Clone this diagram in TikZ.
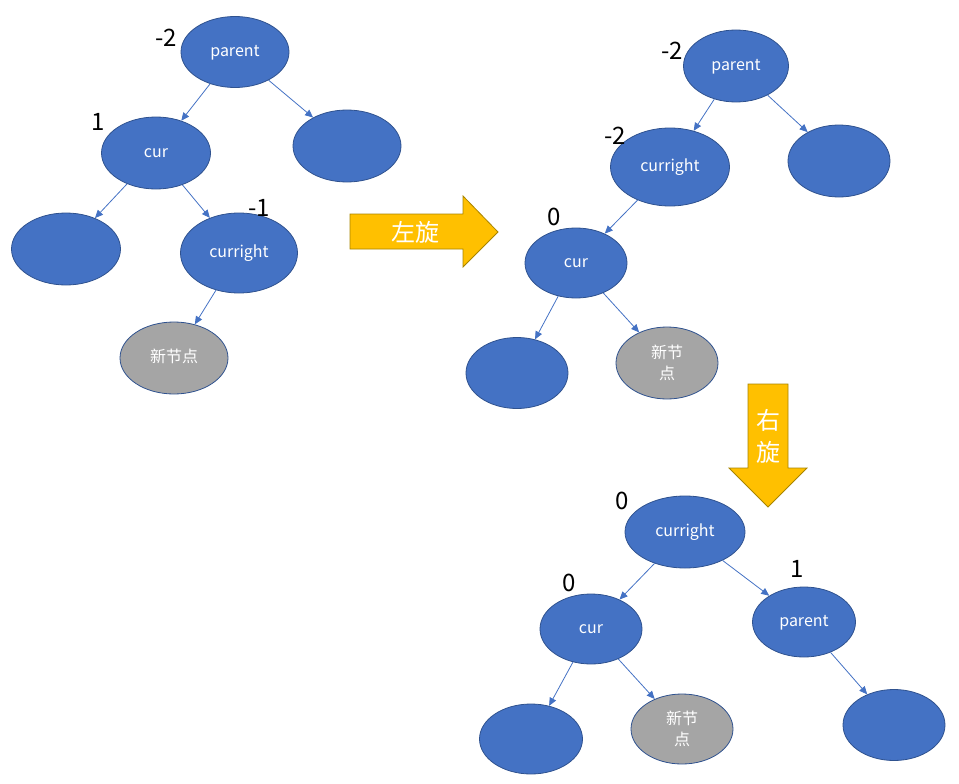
\documentclass[tikz,border=0pt]{standalone}
\usepackage{fontspec}
\newfontfamily\cjk{Noto Sans CJK SC}
\usetikzlibrary{shapes.geometric}
\usetikzlibrary{arrows.meta}
\definecolor{nodeblue}{HTML}{4472C4}
\definecolor{nodeedge}{HTML}{2F528F}
\definecolor{newgray}{HTML}{A5A5A5}
\definecolor{turn}{HTML}{FFC000}
\definecolor{turnedge}{HTML}{A88400}

\begin{document}
\begin{tikzpicture}[x = 1pt, y = -1pt,
	tnode/.style = {ellipse, draw = nodeedge, line width = 0.8pt, fill = nodeblue, inner sep = 0pt,
		minimum width = 103pt, minimum height = 71pt, text = white, align = center,
		text height = 11pt, text depth = 1.5pt, font = \cjk\fontsize{16}{21}\selectfont},
	newnode/.style = {tnode, fill = newgray},
	twoline/.style = {text height = , text depth = },
	bf/.style = {inner sep = 0pt, font = \cjk\fontsize{24}{24}\selectfont},
	link/.style = {draw = nodeblue, line width = 0.8pt, -{Triangle[length = 8pt, width = 7pt]}},
	turnarrow/.style = {draw = turnedge, fill = turn, line width = 0.8pt},
	turntext/.style = {inner sep = 0pt, text = white, font = \cjk\fontsize{24}{24}\selectfont}]

	\useasboundingbox (0,0) rectangle (959,784);

	% before the turn
	\node [tnode, minimum width = 108pt] (p1) at (235,52) {parent};
	\node [tnode, minimum width = 108pt, minimum height = 72pt] (p1r) at (347,146) {};
	\node [tnode, minimum width = 109pt, minimum height = 72pt] (c1) at (156,153) {cur};
	\node [tnode, minimum width = 109pt, minimum height = 72pt] (c1l) at (66,249) {};
	\node [tnode, minimum width = 117pt, minimum height = 80pt] (cr1) at (239,253) {curright};
	\node [newnode, minimum width = 108pt, minimum height = 72pt] (n1) at (174,358) {新节点};

	\node [bf] (bf1p) at (166,38) {-2};
	\node [bf] (bf1c) at (98,122) {1};
	\node [bf] (bf1cr) at (259,208) {-1};

	\draw [link] (p1) -- (c1);
	\draw [link] (p1) -- (p1r);
	\draw [link] (c1) -- (c1l);
	\draw [link] (c1) -- (cr1);
	\draw [link] (cr1) -- (n1);

	% left turn
	\draw [turnarrow] (350,214) -- (463,214) -- (463,196) -- (498,232) -- (463,267) -- (463,249) -- (350,249) -- cycle;
	\node [turntext] (lturn) at (415,232) {左旋};

	% after the left turn
	\node [tnode, minimum width = 105pt, minimum height = 72pt] (p2) at (736,66) {parent};
	\node [tnode, minimum width = 102pt, minimum height = 72pt] (p2r) at (839,161) {};
	\node [tnode, minimum width = 119pt, minimum height = 78pt] (cr2) at (670,167) {curright};
	\node [tnode, minimum width = 102pt, minimum height = 70pt] (c2) at (576,263) {cur};
	\node [tnode, minimum width = 102pt] (c2l) at (517,373) {};
	\node [newnode, twoline, minimum width = 102pt, minimum height = 72pt] (n2) at (667,363) {新节\\点};

	\node [bf] (bf2p) at (672,51) {-2};
	\node [bf] (bf2cr) at (615,136) {-2};
	\node [bf] (bf2c) at (554,217) {0};

	\draw [link] (p2) -- (cr2);
	\draw [link] (p2) -- (p2r);
	\draw [link] (cr2) -- (c2);
	\draw [link] (c2) -- (c2l);
	\draw [link] (c2) -- (n2);

	% right turn
	\draw [turnarrow] (748,384) -- (788,384) -- (788,468) -- (807,468) -- (768,507) -- (729,468) -- (748,468) -- cycle;
	\node [turntext] (rturn1) at (768,420) {右};
	\node [turntext] (rturn2) at (768,452) {旋};

	% after the right turn
	\node [tnode, minimum width = 120pt, minimum height = 72pt] (cr3) at (685,532) {curright};
	\node [tnode, minimum width = 102pt, minimum height = 70pt] (c3) at (591,629) {cur};
	\node [tnode, minimum width = 103pt, minimum height = 70pt] (p3) at (804,622) {parent};
	\node [tnode, minimum width = 103pt, minimum height = 70pt] (c3l) at (531,739) {};
	\node [newnode, twoline, minimum width = 102pt, minimum height = 70pt] (n3) at (682,729) {新节\\点};
	\node [tnode, minimum width = 102pt, minimum height = 71pt] (p3r) at (894,725) {};

	\node [bf] (bf3cr) at (622,501) {0};
	\node [bf] (bf3c) at (569,583) {0};
	\node [bf] (bf3p) at (797,569) {1};

	\draw [link] (cr3) -- (c3);
	\draw [link] (cr3) -- (p3);
	\draw [link] (c3) -- (c3l);
	\draw [link] (c3) -- (n3);
	\draw [link] (p3) -- (p3r);

\end{tikzpicture}
\end{document}
